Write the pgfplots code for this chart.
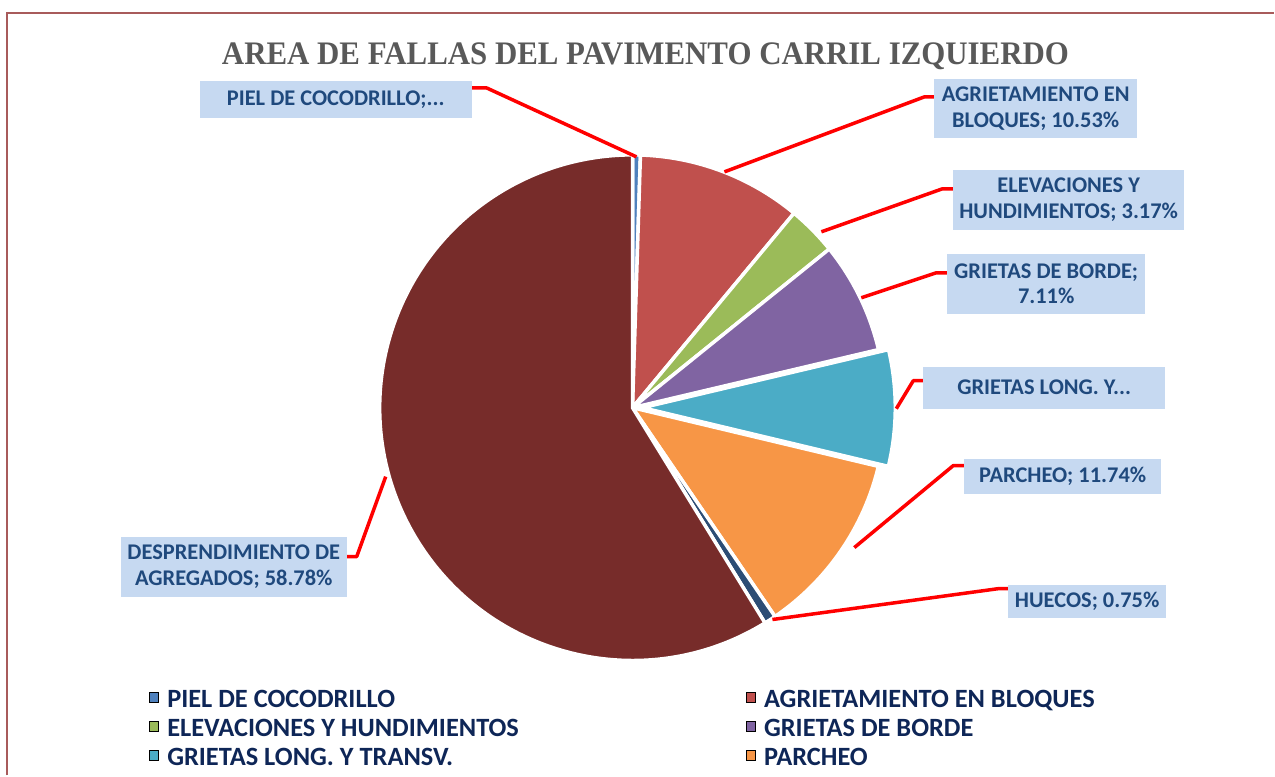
\documentclass[border=0pt]{standalone}
\usepackage{fontspec}
\setmainfont{Carlito}
\newfontfamily\titlefont[FakeStretch=0.94]{Liberation Serif}
\usepackage{pgfplots}
\usepackage{pgfplotstable}
\pgfplotsset{compat=1.18}

\definecolor{c0}{HTML}{4F81BD}
\definecolor{c1}{HTML}{C0504D}
\definecolor{c2}{HTML}{9BBB59}
\definecolor{c3}{HTML}{8064A2}
\definecolor{c4}{HTML}{4BACC6}
\definecolor{c5}{HTML}{F79646}
\definecolor{c6}{HTML}{2C4D75}
\definecolor{c7}{HTML}{772C2A}
\definecolor{lblbox}{HTML}{C6D9F1}
\definecolor{lbltext}{HTML}{1F497D}
\definecolor{legtext}{HTML}{0E2657}
\definecolor{titlegray}{HTML}{595959}
\definecolor{framec}{HTML}{A85B5B}

% share of each failure type, percent (clockwise from 12 o'clock)
\pgfplotstableread{
idx value explode
0   0.50   0
1   10.53  0
2   3.17   0
3   7.11   0
4   7.42   10
5   11.74  0
6   0.75   0
7   58.78  0
}\piedata

\newcommand\cx{633}
\newcommand\cy{368}
\newcommand\rr{253}

\begin{document}
\begin{tikzpicture}
% slice angles and centres from the table
\def\cum{0}
\foreach \i in {0,...,7}{
  \pgfplotstablegetelem{\i}{value}\of\piedata
  \let\v\pgfplotsretval
  \pgfplotstablegetelem{\i}{explode}\of\piedata
  \let\e\pgfplotsretval
  \pgfmathsetmacro\sa{90-3.6*\cum}
  \pgfmathsetmacro\newcum{\cum+\v}
  \pgfmathsetmacro\ea{90-3.6*\newcum}
  \pgfmathsetmacro\ma{(\sa+\ea)/2}
  \pgfmathsetmacro\px{\cx+\e*cos(\ma)}
  \pgfmathsetmacro\py{\cy+\e*sin(\ma)}
  \expandafter\xdef\csname sa\i\endcsname{\sa}
  \expandafter\xdef\csname ea\i\endcsname{\ea}
  \expandafter\xdef\csname px\i\endcsname{\px}
  \expandafter\xdef\csname py\i\endcsname{\py}
  \xdef\cum{\newcum}
}
\begin{axis}[
  width=1275bp, height=776bp, scale only axis,
  xmin=0, xmax=1275, ymin=0, ymax=776,
  hide axis, clip=false,
  legend columns=2,
  legend cell align=left,
  legend image code/.code={\fill[#1] (0bp,-1bp) rectangle (9bp,9bp);},
  legend style={draw=none, fill=none, inner sep=0pt, outer sep=0pt,
    at={(axis cs:149,86)}, anchor=north west,
    font=\fontsize{26.5}{29}\selectfont\bfseries, text=legtext,
    nodes={inner sep=1bp, text height=17bp, text depth=5bp},
    row sep=5bp,
    /tikz/every odd column/.append style={column sep=8bp},
    /tikz/every even column/.append style={column sep=226bp}},
]
\path (axis cs:0,0) rectangle (axis cs:1275,776);

% chart frame
\draw[framec, line width=2bp] (axis cs:7,0) -- (axis cs:7,763) -- (axis cs:1275,763);

% pie slices
\pgfplotsinvokeforeach{0,...,7}{
  \fill[c#1, draw=white, line width=3.5bp, line join=round]
    (axis cs:\csname px#1\endcsname,\csname py#1\endcsname)
    -- ++(\csname sa#1\endcsname:\rr bp)
    arc[start angle=\csname sa#1\endcsname, end angle=\csname ea#1\endcsname, radius=\rr bp]
    -- cycle;
}

% leader lines
\begin{scope}[red, line width=3.5bp, line join=round]
\draw (axis cs:472,688) -- (axis cs:487,688) -- (axis cs:637,619);
\draw (axis cs:725,604) -- (axis cs:925,679) -- (axis cs:936,679);
\draw (axis cs:822,544) -- (axis cs:943,587) -- (axis cs:955,587);
\draw (axis cs:862,478) -- (axis cs:937,503) -- (axis cs:949,503);
\draw (axis cs:897,367) -- (axis cs:914,395) -- (axis cs:925,395);
\draw (axis cs:855,228) -- (axis cs:954,310) -- (axis cs:966,310);
\draw (axis cs:773,156) -- (axis cs:1000,187) -- (axis cs:1010,187);
\draw (axis cs:386,299) -- (axis cs:357,219) -- (axis cs:347,219);
\end{scope}

% data labels
\begin{scope}[every node/.style={fill=lblbox, text=lbltext, inner sep=0pt,
    align=center, font=\fontsize{22.5}{26}\selectfont\bfseries}]
\node[minimum width=272bp, minimum height=37bp] at (axis cs:336,676.5) {PIEL DE COCODRILLO;...};
\node[minimum width=203bp, minimum height=59bp] at (axis cs:1036.5,667.5) {AGRIETAMIENTO EN\\BLOQUES; 10.53\%};
\node[minimum width=231bp, minimum height=60bp] at (axis cs:1069.5,576) {ELEVACIONES Y\\HUNDIMIENTOS; 3.17\%};
\node[minimum width=198bp, minimum height=60bp] at (axis cs:1047,492) {GRIETAS DE BORDE;\\7.11\%};
\node[minimum width=242bp, minimum height=42bp] at (axis cs:1045,388) {GRIETAS LONG. Y...};
\node[minimum width=197bp, minimum height=35bp] at (axis cs:1063.5,299.5) {PARCHEO; 11.74\%};
\node[minimum width=158bp, minimum height=33bp] at (axis cs:1088,174.5) {HUECOS; 0.75\%};
\node[minimum width=226bp, minimum height=60bp] at (axis cs:234,209) {DESPRENDIMIENTO DE\\AGREGADOS; 58.78\%};
\end{scope}

% title
\node[font=\titlefont\fontsize{33}{36}\selectfont\bfseries, text=titlegray]
  at (axis cs:646,720) {AREA DE FALLAS DEL PAVIMENTO CARRIL IZQUIERDO};

% legend
\addlegendimage{fill=c0}\addlegendentry{PIEL DE COCODRILLO}
\addlegendimage{fill=c1}\addlegendentry{AGRIETAMIENTO EN BLOQUES}
\addlegendimage{fill=c2}\addlegendentry{ELEVACIONES Y HUNDIMIENTOS}
\addlegendimage{fill=c3}\addlegendentry{GRIETAS DE BORDE}
\addlegendimage{fill=c4}\addlegendentry{GRIETAS LONG. Y TRANSV.}
\addlegendimage{fill=c5}\addlegendentry{PARCHEO}
\end{axis}
\end{tikzpicture}
\end{document}
